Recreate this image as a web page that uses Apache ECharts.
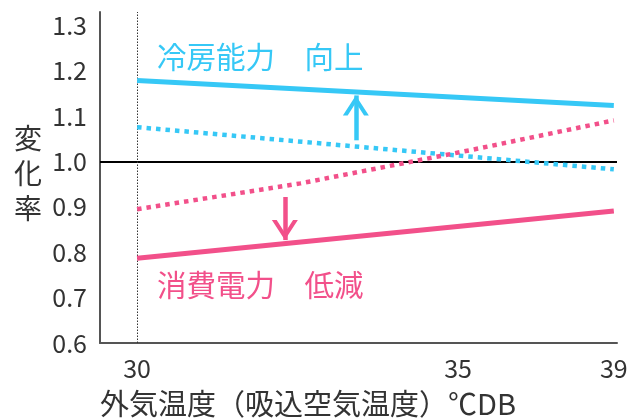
<!DOCTYPE html>
<html>
<head>
<meta charset="utf-8">
<script src="https://cdn.jsdelivr.net/npm/echarts@6/dist/echarts.min.js"></script>
<style>
  html, body { margin: 0; padding: 0; background: #fff; }
  #chart { width: 631px; height: 419px; }
</style>
</head>
<body>
<div id="chart"></div>
<script>
// x ends of the straight lines (outside air temp)
const xEnds = [30, 39];
// tick labels on the x axis and where they sit (the drawing is not to scale past 35)
const xTickLabels = ['30', '35', '39'];
const xTickPos = [30, 36.06, 39];
const yTicks = [0.6, 0.7, 0.8, 0.9, 1.0, 1.1, 1.2, 1.3];

// 冷房能力
const coolSolid = [1.179, 1.124];
const coolDotted = [1.076, 0.983];
// 消費電力
const powerDottedX = [30, 33.08, 36.28, 39];
const powerDotted = [0.895, 0.952, 1.025, 1.091];
const powerSolid = [0.787, 0.891];

// arrows: [x, from, to]
const upArrow = [34.13, 1.047, 1.146];
const downArrow = [32.79, 0.922, 0.827];

const BLUE = '#36c8f6';
const PINK = '#f2508a';
const FONT = '"Noto Sans CJK JP", "Noto Sans", sans-serif';

// open chevron pointing up, tip at the centre of the box
const chevron = 'path://M13,0 L26,20 L21.2,20 L13,7.2 L4.8,20 L0,20 Z M13,-20 L13.01,-20 Z';

function pairs(xs, ys) {
  return xs.map((x, i) => [x, ys[i]]);
}

function arrowLine(a) {
  return [{coord: [a[0], a[1]], symbol: 'none'}, {coord: [a[0], a[2]], symbol: chevron, symbolSize: [26, 40]}];
}

const chart = echarts.init(document.getElementById('chart'));

const option = {
  animation: false,
  backgroundColor: '#fff',
  grid: {left: 100, right: 14, top: 12, bottom: 76, outerBoundsMode: 'none'},
  xAxis: {
    type: 'value',
    min: 29.30,
    max: 39.06,
    axisLine: {lineStyle: {color: '#555', width: 2}},
    axisTick: {show: false},
    splitLine: {show: false},
    axisLabel: {
      customValues: xTickPos,
      margin: 13,
      color: '#333',
      fontSize: 25,
      fontFamily: FONT,
      formatter: function (v) {
        let best = 0;
        xTickPos.forEach((p, i) => { if (Math.abs(p - v) < Math.abs(xTickPos[best] - v)) best = i; });
        return xTickLabels[best];
      }
    }
  },
  yAxis: {
    type: 'value',
    min: 0.6,
    max: 1.33,
    axisLine: {show: true, lineStyle: {color: '#555', width: 2}},
    axisTick: {show: false},
    splitLine: {show: false},
    axisLabel: {
      customValues: yTicks,
      margin: 13,
      color: '#333',
      fontSize: 25,
      fontFamily: FONT,
      formatter: v => v.toFixed(1)
    }
  },
  series: [
    {
      name: 'ref',
      type: 'line',
      data: [],
      markLine: {
        silent: true,
        z: 1,
        symbol: ['none', 'none'],
        label: {show: false},
        data: [
          {yAxis: 1.0, lineStyle: {color: '#000', width: 2, type: 'solid'}},
          {xAxis: 30, lineStyle: {color: '#333', width: 1, type: [1.5, 1.5]}}
        ]
      }
    },
    {
      name: '冷房能力 (基準)',
      type: 'line',
      data: pairs(xEnds, coolDotted),
      showSymbol: false,
      lineStyle: {color: BLUE, width: 4.5, type: [4.5, 5], cap: 'butt'}
    },
    {
      name: '消費電力 (基準)',
      type: 'line',
      data: pairs(powerDottedX, powerDotted),
      showSymbol: false,
      lineStyle: {color: PINK, width: 4.5, type: [4.5, 5], cap: 'butt'}
    },
    {
      name: '冷房能力',
      type: 'line',
      data: pairs(xEnds, coolSolid),
      showSymbol: false,
      lineStyle: {color: BLUE, width: 5},
      markLine: {
        silent: true,
        label: {show: false},
        lineStyle: {color: BLUE, width: 4.5, type: 'solid'},
        itemStyle: {color: BLUE},
        data: [arrowLine(upArrow)]
      }
    },
    {
      name: '消費電力',
      type: 'line',
      data: pairs(xEnds, powerSolid),
      showSymbol: false,
      lineStyle: {color: PINK, width: 5},
      markLine: {
        silent: true,
        label: {show: false},
        lineStyle: {color: PINK, width: 4.5, type: 'solid'},
        itemStyle: {color: PINK},
        data: [arrowLine(downArrow)]
      }
    }
  ],
  graphic: [
    {type: 'text', x: 157, y: 57, style: {text: '冷房能力　向上', fill: BLUE, font: '29.5px ' + FONT, textAlign: 'left', textVerticalAlign: 'middle'}},
    {type: 'text', x: 157, y: 285, style: {text: '消費電力　低減', fill: PINK, font: '29.5px ' + FONT, textAlign: 'left', textVerticalAlign: 'middle'}},
    {type: 'text', x: 28, y: 173, style: {text: '変\n化\n率', fill: '#333', font: '28px ' + FONT, lineHeight: 35, textAlign: 'center', textVerticalAlign: 'middle'}},
    {type: 'text', x: 100, y: 404, style: {text: '外気温度（吸込空気温度）℃DB', fill: '#333', font: '29px ' + FONT, textAlign: 'left', textVerticalAlign: 'middle'}}
  ]
};

chart.setOption(option);
</script>
</body>
</html>
